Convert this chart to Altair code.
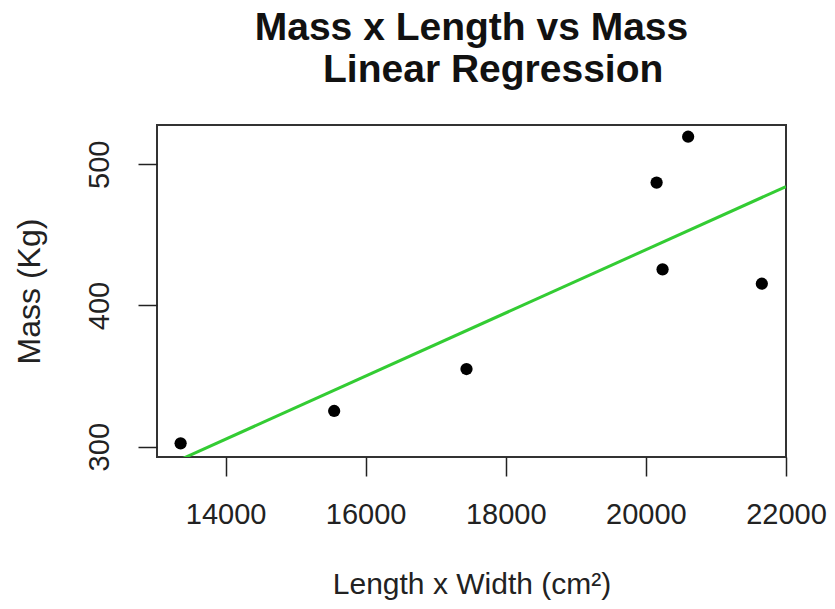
import altair as alt
import pandas as pd

# Data
area = [13358, 15550, 17439, 20153, 20238, 20603, 21655]
mass = [302.4, 325.3, 355.0, 487.0, 425.6, 519.5, 415.4]
x_ticks = [14000, 16000, 18000, 20000, 22000]
y_ticks = [300, 400, 500]
x_domain = [13021, 22000]
y_domain = [292.7, 527.8]
title_lines = ["Mass x Length vs Mass", "\u200b\u00a0\u00a0\u00a0\u00a0Linear Regression"]
x_title = "Length x Width (cm\u00b2)"
y_title = "Mass (Kg)"

df = pd.DataFrame({"area": area, "mass": mass})

FONT = "Liberation Sans"
INK = "#222222"
W, H = 629, 332

x_enc = alt.X(
    "area:Q",
    scale=alt.Scale(domain=x_domain, nice=False, zero=False),
    axis=alt.Axis(
        values=x_ticks, format="d", title=x_title,
        domain=False, grid=False, tickSize=19, tickWidth=1.5, tickColor=INK,
        labelFont=FONT, labelFontSize=29, labelColor=INK, labelPadding=24,
        labelFlush=False, labelOverlap=False,
        titleFont=FONT, titleFontSize=30, titleFontWeight="normal", titleColor=INK,
        titleX=W / 2, titleY=136, titleBaseline="alphabetic", titleAlign="center",
    ),
)
y_enc = alt.Y(
    "mass:Q",
    scale=alt.Scale(domain=y_domain, nice=False, zero=False),
    axis=alt.Axis(
        values=y_ticks, format="d", title=y_title,
        domain=False, grid=False, tickSize=19, tickWidth=1.5, tickColor=INK,
        labelFont=FONT, labelFontSize=29, labelColor=INK, labelPadding=30,
        labelAngle=-90, labelAlign="center", labelBaseline="alphabetic",
        labelFlush=False, labelOverlap=False,
        titleFont=FONT, titleFontSize=32, titleFontWeight="normal", titleColor=INK,
        titleAngle=270, titleX=-118, titleY=H / 2, titleBaseline="alphabetic", titleAlign="center",
    ),
)

points = alt.Chart(df).mark_circle(size=150, color="black", opacity=1).encode(x=x_enc, y=y_enc)

line = (
    alt.Chart(df)
    .transform_regression("area", "mass", extent=x_domain)
    .mark_line(color="#33cc33", strokeWidth=3, clip=True)
    .encode(x=x_enc, y=y_enc)
)

chart = (
    alt.layer(line, points)
    .properties(
        width=W, height=H,
        background="white",
        title=alt.TitleParams(
            text=title_lines, font=FONT, fontSize=39, fontWeight="bold", color="#111111",
            anchor="middle", baseline="alphabetic", offset=4, lineHeight=42.5,
        ),
        autosize=alt.AutoSizeParams(type="none"),
        padding={"left": 149, "top": 117, "right": 41, "bottom": 144},
    )
    .configure_view(stroke="#333333", strokeWidth=2)
)

chart.save("out.html", embed_options={"renderer": "svg", "actions": False})
